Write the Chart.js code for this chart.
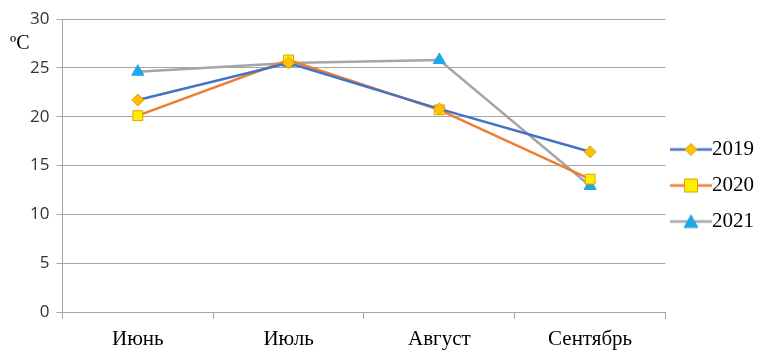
<!DOCTYPE html>
<html>
<head>
<meta charset="utf-8">
<script src="https://cdn.jsdelivr.net/npm/chart.js@4/dist/chart.umd.min.js"></script>
<style>
  html, body { margin: 0; padding: 0; background: #fff; }
  #wrap { width: 764px; height: 352px; position: relative; }
</style>
</head>
<body>
<div id="wrap"><canvas id="chart" width="764" height="352"></canvas></div>
<script>
const months = ['Июнь', 'Июль', 'Август', 'Сентябрь'];
const temps2019 = [21.7, 25.5, 20.8, 16.4];
const temps2020 = [20.1, 25.8, 20.7, 13.6];
const temps2021 = [24.6, 25.5, 25.8, 12.9];
const yTicks = [0, 5, 10, 15, 20, 25, 30];

// legend sample: short line with the marker in the middle
function legendIcon(lineColor, shape, fill, stroke) {
    const c = document.createElement('canvas');
    c.width = 42; c.height = 16;
    const g = c.getContext('2d');
    g.strokeStyle = lineColor;
    g.lineWidth = 2.5;
    g.beginPath(); g.moveTo(0, 8); g.lineTo(42, 8); g.stroke();
    g.fillStyle = fill;
    g.strokeStyle = stroke;
    g.lineWidth = 1;
    g.beginPath();
    if (shape === 'rectRot') {
        g.moveTo(21, 2); g.lineTo(27, 8); g.lineTo(21, 14); g.lineTo(15, 8); g.closePath();
    } else if (shape === 'rect') {
        g.rect(14.5, 1.5, 13, 13);
    } else {
        g.moveTo(21, 1.5); g.lineTo(28, 14); g.lineTo(14, 14); g.closePath();
    }
    g.fill(); g.stroke();
    return c;
}

const series = [
    { label: '2019', data: temps2019, line: '#4472c4', shape: 'rectRot', fill: '#ffc000', stroke: '#d9a300', r: 6 },
    { label: '2020', data: temps2020, line: '#ed7d31', shape: 'rect', fill: '#ffee00', stroke: '#e0a000', r: 7 },
    { label: '2021', data: temps2021, line: '#a5a5a5', shape: 'triangle', fill: '#1fa8e6', stroke: '#1fa8e6', r: 7 }
];

const unitLabel = {
    id: 'unitLabel',
    afterDraw(chart) {
        const ctx = chart.ctx;
        ctx.save();
        ctx.font = '20px "Liberation Serif", serif';
        ctx.fillStyle = '#000';
        ctx.textAlign = 'left';
        ctx.textBaseline = 'middle';
        ctx.fillText('ºC', 10, 44);
        ctx.restore();
    }
};

new Chart(document.getElementById('chart').getContext('2d'), {
    type: 'line',
    data: {
        labels: months,
        datasets: series.map(s => ({
            label: s.label,
            data: s.data,
            borderColor: s.line,
            borderWidth: 2.5,
            pointStyle: s.shape,
            pointRadius: s.r,
            pointBackgroundColor: s.fill,
            pointBorderColor: s.stroke,
            pointBorderWidth: 1,
            tension: 0
        }))
    },
    options: {
        responsive: false,
        animation: false,
        layout: { padding: { top: 19, left: 23, right: 0, bottom: 0 } },
        plugins: {
            legend: {
                position: 'right',
                labels: {
                    usePointStyle: true,
                    padding: 15,
                    color: '#000',
                    font: { family: '"Liberation Serif", serif', size: 21 },
                    generateLabels: (chart) => series.map((s, i) => ({
                        text: s.label,
                        pointStyle: legendIcon(s.line, s.shape, s.fill, s.stroke),
                        fillStyle: s.fill,
                        strokeStyle: s.line,
                        lineWidth: 0,
                        datasetIndex: i
                    }))
                }
            },
            tooltip: { enabled: false }
        },
        scales: {
            x: {
                offset: true,
                afterFit: (axis) => { axis.height = 40; },
                grid: {
                    offset: true,
                    drawOnChartArea: false,
                    drawTicks: true,
                    tickLength: 7,
                    color: '#a6a6a6'
                },
                border: { color: '#a6a6a6' },
                ticks: {
                    color: '#000',
                    padding: 8,
                    font: { family: '"Liberation Serif", serif', size: 21 }
                }
            },
            y: {
                min: 0,
                max: 30,
                afterBuildTicks: (axis) => { axis.ticks = yTicks.map(v => ({ value: v })); },
                grid: { color: '#a6a6a6', tickLength: 6 },
                border: { color: '#a6a6a6' },
                ticks: {
                    color: '#333',
                    padding: 7,
                    font: { family: '"Open Sans", sans-serif', size: 17 }
                }
            }
        }
    },
    plugins: [unitLabel]
});
</script>
</body>
</html>
